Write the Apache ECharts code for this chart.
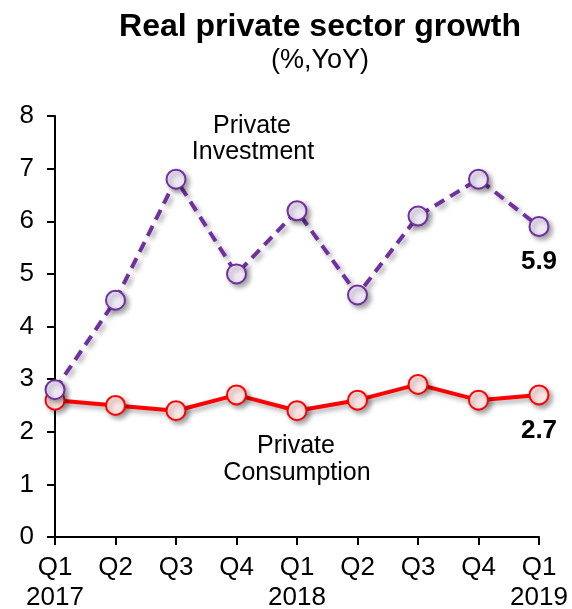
<!DOCTYPE html>
<html>
<head>
<meta charset="utf-8">
<script src="https://cdn.jsdelivr.net/npm/echarts@6/dist/echarts.min.js"></script>
<style>
  html, body { margin: 0; padding: 0; background: #fff; }
  #chart { width: 572px; height: 609px; }
</style>
</head>
<body>
<div id="chart"></div>
<script>
// Quarters from Q1 2017 to Q1 2019
const quarters = ['Q1', 'Q2', 'Q3', 'Q4', 'Q1', 'Q2', 'Q3', 'Q4', 'Q1'];
const years = ['2017', '', '', '', '2018', '', '', '', '2019'];

// Real growth, % YoY
const privateInvestment = [2.8, 4.5, 6.8, 5.0, 6.2, 4.6, 6.1, 6.8, 5.9];
const privateConsumption = [2.6, 2.5, 2.4, 2.7, 2.4, 2.6, 2.9, 2.6, 2.7];

const yTicks = [0, 1, 2, 3, 4, 5, 6, 7, 8];

const FONT = 'Liberation Sans, Arial, sans-serif';
const shadow = {
  shadowColor: 'rgba(0,0,0,0.35)',
  shadowBlur: 5,
  shadowOffsetX: 3,
  shadowOffsetY: 3
};

// Only the latest quarter carries a value label
function withEndLabel(values) {
  return values.map((v, i) => {
    if (i !== values.length - 1) return v;
    return {
      value: v,
      label: {
        show: true,
        position: 'bottom',
        distance: 12,
        formatter: (p) => p.value.toFixed(1),
        color: '#000',
        fontFamily: FONT,
        fontWeight: 'bold',
        fontSize: 26
      }
    };
  });
}

function note(text, x, y) {
  return {
    type: 'text', x: x, y: y,
    style: {
      text: text, fontFamily: FONT, fontSize: 25, fill: '#000',
      align: 'center', verticalAlign: 'middle'
    }
  };
}

const chart = echarts.init(document.getElementById('chart'), null, { renderer: 'canvas' });

chart.setOption({
  animation: false,
  backgroundColor: '#fff',
  title: [
    {
      text: 'Real private sector growth',
      left: 315, top: 6, textAlign: 'center',
      textStyle: { fontFamily: FONT, fontWeight: 'bold', fontSize: 32, color: '#000' }
    },
    {
      text: '(%,YoY)',
      left: 315, top: 42, textAlign: 'center',
      textStyle: { fontFamily: FONT, fontWeight: 'normal', fontSize: 27, color: '#000' }
    }
  ],
  grid: { left: 55, right: 33, top: 116, bottom: 72, containLabel: false, outerBoundsMode: 'none' },
  xAxis: {
    type: 'category',
    data: quarters,
    boundaryGap: false,
    axisLine: { lineStyle: { color: '#000', width: 2 } },
    axisTick: { show: true, inside: false, length: 8, lineStyle: { color: '#000', width: 2 }, alignWithLabel: true },
    axisLabel: {
      color: '#000', fontFamily: FONT, fontSize: 26, margin: 16, lineHeight: 30,
      interval: 0,
      formatter: (val, idx) => years[idx] ? val + '\n' + years[idx] : val
    },
    splitLine: { show: false }
  },
  yAxis: {
    type: 'value',
    min: yTicks[0], max: yTicks[yTicks.length - 1], interval: 1,
    axisLine: { show: true, lineStyle: { color: '#000', width: 2 } },
    axisTick: { show: true, inside: false, length: 8, lineStyle: { color: '#000', width: 2 } },
    axisLabel: { color: '#000', fontFamily: FONT, fontSize: 26, margin: 21 },
    splitLine: { show: false }
  },
  series: [
    {
      name: 'Private Consumption',
      type: 'line',
      data: withEndLabel(privateConsumption),
      symbol: 'circle',
      symbolSize: 19,
      z: 2,
      lineStyle: Object.assign({ color: '#ff0000', width: 4 }, shadow),
      itemStyle: Object.assign({ color: '#fde4e4', borderColor: '#ff0000', borderWidth: 2 }, shadow)
    },
    {
      name: 'Private Investment',
      type: 'line',
      data: withEndLabel(privateInvestment),
      symbol: 'circle',
      symbolSize: 19,
      z: 3,
      lineStyle: Object.assign({ color: '#7030a0', width: 4, type: [11, 7] }, shadow),
      itemStyle: Object.assign({ color: '#eee7f6', borderColor: '#7030a0', borderWidth: 2 }, shadow)
    }
  ],
  graphic: [
    note('Private', 252, 126),
    note('Investment', 253, 152),
    note('Private', 296, 446),
    note('Consumption', 297, 473)
  ]
});
</script>
</body>
</html>
